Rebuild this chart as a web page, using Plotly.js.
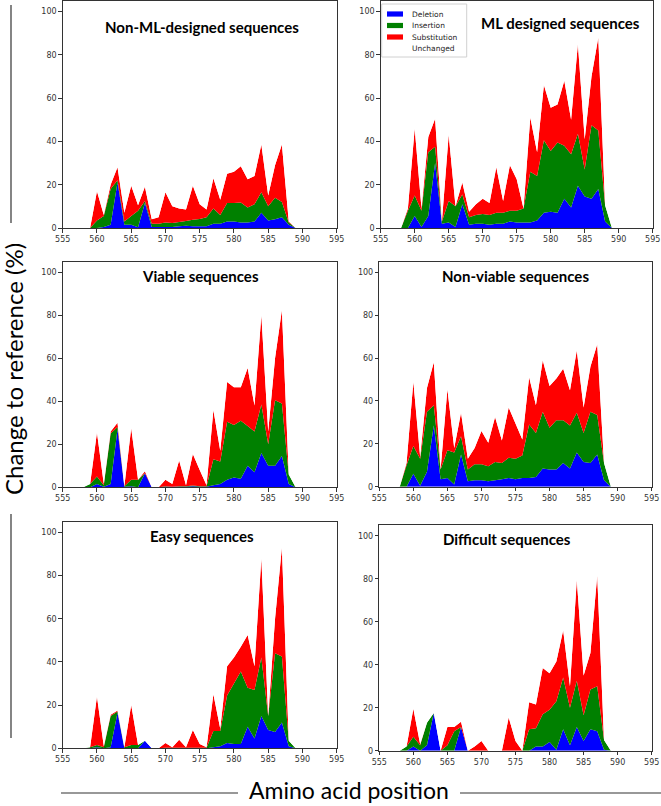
<!DOCTYPE html>
<html>
<head>
<meta charset="utf-8">
<script src="https://cdn.plot.ly/plotly-3.0.1.min.js"></script>
<style>html,body{margin:0;padding:0;background:#fff;}#chart{width:661px;height:806px;}</style>
</head>
<body>
<div id="chart"></div>
<script>
// Amino acid positions
const positions = [558,559,560,561,562,563,564,565,566,567,568,569,570,571,572,573,574,575,576,577,578,579,580,581,582,583,584,585,586,587,588,589];

const panelTitles = ["Non-ML-designed sequences","ML designed sequences","Viable sequences","Non-viable sequences","Easy sequences","Difficult sequences"];
const seriesNames = ["Deletion","Insertion","Substitution","Unchanged"];
const xTicks = [555,560,565,570,575,580,585,590,595];
const yTicks = [0,20,40,60,80,100];

// Non-ML-designed sequences
const nonMLDeletion     = [0,0,0,0.5,1.5,21,1.5,1.5,0.3,11.5,0.5,0.5,0.5,0.5,0.8,1,0.8,0.8,0.8,2,2,3,3,2.5,2.5,3,7,3.5,4,5,1.5,0];
const nonMLInsertion    = [0,0,3.5,5,16.5,1,1.5,4,7.7,1,1.5,1.5,2,1.8,2,2.2,3,3.4,4.2,7,4,8.5,8.5,9.3,7,8,9.5,6.5,10,7,1,0];
const nonMLSubstitution = [0,0,13.5,0.5,2,6,4,14,2.5,6.5,2,3,14,7.7,6.2,5.3,15.7,6.8,3.5,14,7,13.5,14.5,16.7,13,13,22,5,15,26.5,0.5,0];

// ML designed sequences
const mlDeletion     = [0,0,5.5,0.5,5.5,30,2,2.5,0.5,11,1.5,2,2,1.5,2,2,3,2.5,2.5,2.5,3.5,7,7.5,7,13.5,9.5,19.5,14.5,13.5,18,3,0];
const mlInsertion    = [0,8,9.5,7.5,29.5,7.5,1,10,9.5,4.5,3.5,4,4.5,4.5,5,5,5,5.5,6.5,23.5,20.5,33.5,28,32.5,24.5,24.5,24,12.5,34,27,7.5,0];
const mlSubstitution = [0,1,31,1,7,13,0,30.5,0,5.5,2.5,5,7,5.5,21,5.5,21,14.5,0,25,11,25.5,20,17.5,30,16,41.5,14,22.5,43,0,0];

// Viable sequences
const viableDeletion     = [0,0,1.5,0.3,1.5,27,0.3,0.5,0,6.5,0,0,0.3,0.3,0.3,0.3,0.5,0.3,0.3,1,1.5,3.5,4.5,4,10,7,16,10,10,14.5,1.5,0];
const viableInsertion    = [0,1.5,3.5,0.7,23.5,1,0.2,3,3.5,0,0,0,0.2,0,0.2,0.2,0.3,0.2,0.2,12,10.5,27,24.5,27,18.5,19,22.5,10,30.5,24.5,4.5,0];
const viableSubstitution = [0,0,20.5,0.5,1,2,0,24,0,1,0,0,3,1.2,12,0.5,14.7,7.5,0.5,23,5,18.5,17.5,15.5,27,12,41.5,6,19.5,43.5,0,0];

// Non-viable sequences
const nonViableDeletion     = [0,0,6,0.5,7,28.5,3.5,4,1,15,2.5,3,3,2.5,3,3.5,4,3.5,4,4,4.5,8.5,8,8,11,8.5,16,11.5,11,15,3,0];
const nonViableInsertion    = [0,10,13,12.5,28,9.5,4.5,13,15,8.5,5.5,7.5,7.5,7,8.5,7.5,9.5,9.5,10.5,25,20.5,26.5,19.5,23,20,20,18.5,13.5,24,18.5,8,0];
const nonViableSubstitution = [0,1,30,1,11,20,0,28.5,2,11,5,7.5,15.5,11,21,10.5,23.5,16.5,7.5,22,13,24,19.5,19.5,24,16.5,29,12,21,33,0,0];

// Easy sequences
const easyDeletion     = [0,0,0.5,0,0.5,16.5,0,0,0,3.5,0,0,0,0,0,0,0,0,0,0.5,1,2.5,2,2,10,4.5,15,8.5,7.5,12,1,0];
const easyInsertion    = [0,0.5,1,0.5,14.5,0.5,0.5,1.5,1.5,0,0,0,0.2,0.2,0.2,0.2,0.2,0.2,0.2,7.5,7,22,28,33.5,18,22.5,27,6.5,36.5,30.5,2.5,0];
const easySubstitution = [0,0,22.5,0.5,0.5,0.5,0,18.5,0,0,0,0,2.3,0.3,3.8,0.3,8.3,1.8,0.3,17,1,13.5,12,11.5,24.5,11,46,0,16,50.5,0,0];

// Difficult sequences
const difficultDeletion     = [0,0,2,0,2.5,17.5,0,0,0,11,0,0,0,0,0,0,0,0,0,0,2,2,4,0.5,10,2.5,11,4.5,10,9,0.5,0];
const difficultInsertion    = [0,2,4.5,2.5,10.5,0,0,2.5,9,0,0,0,0,0,0,0,0,0,0,10,8.5,15,15,22.5,24,17.5,21.5,12,18.5,21,4.5,0];
const difficultSubstitution = [0,0,13,0.5,0,0,0,8.5,2,2.5,0,2,4.5,0,0,0,15.5,4.5,0,12.5,11,21.5,17,18.5,22,10,47,18.5,17,51.5,0,0];

const panelData = [
  [nonMLDeletion, nonMLInsertion, nonMLSubstitution],
  [mlDeletion, mlInsertion, mlSubstitution],
  [viableDeletion, viableInsertion, viableSubstitution],
  [nonViableDeletion, nonViableInsertion, nonViableSubstitution],
  [easyDeletion, easyInsertion, easySubstitution],
  [difficultDeletion, difficultInsertion, difficultSubstitution]
];

const colors = ["#0000ff", "#008000", "#ff0000", "#ffffff"];

// layout geometry (pixels in 661x806 canvas)
const W = 661, H = 806;
const px = v => v / W;
const py = v => 1 - v / H;
const boxes = [
  {x0:62.7, x1:336.7, yb:228.0, yt:0.6},
  {x0:380.7, x1:652.7, yb:228.0, yt:0.6},
  {x0:62.7, x1:336.7, yb:487.3, yt:261.5},
  {x0:379.3, x1:651.7, yb:486.7, yt:261.6},
  {x0:62.7, x1:336.7, yb:748.3, yt:521.5},
  {x0:379.3, x1:651.7, yb:750.7, yt:525.0}
];
const titlePos = [
  {x:201.7, y:27}, {x:560, y:23}, {x:200, y:276}, {x:515, y:276}, {x:201.7, y:536}, {x:506.7, y:539}
];

const traces = [];
const layout = {
  width: W, height: H,
  margin: {l:0, r:0, t:0, b:0},
  paper_bgcolor: "#ffffff",
  plot_bgcolor: "#ffffff",
  showlegend: false,
  annotations: [],
  shapes: []
};

panelData.forEach((series, i) => {
  const n = i + 1;
  const xa = n === 1 ? "x" : "x" + n;
  const ya = n === 1 ? "y" : "y" + n;
  const unchanged = positions.map((_, k) => 100 - (series[0][k] + series[1][k] + series[2][k]));
  const all = [series[0], series[1], series[2], unchanged];
  all.forEach((vals, s) => {
    traces.push({
      type: "scatter",
      x: positions, y: vals,
      xaxis: xa, yaxis: ya,
      stackgroup: "g" + n,
      mode: "none",
      fillcolor: colors[s],
      name: seriesNames[s],
      hoverinfo: "skip"
    });
  });
  const b = boxes[i];
  const axCommon = {
    showline: true, mirror: true, linecolor: "#333", linewidth: 1,
    ticks: "outside", ticklen: 3.5, tickwidth: 1, tickcolor: "#333",
    tickfont: {family: "DejaVu Sans", size: 8, color: "#333"},
    showgrid: false, zeroline: false, fixedrange: true
  };
  layout["xaxis" + (n === 1 ? "" : n)] = Object.assign({}, axCommon, {
    domain: [px(b.x0), px(b.x1)], range: [555, 595], tickvals: xTicks, ticktext: xTicks.map(String),
    anchor: ya
  });
  layout["yaxis" + (n === 1 ? "" : n)] = Object.assign({}, axCommon, {
    domain: [py(b.yb), py(b.yt)], range: [0, 105], tickvals: yTicks, ticktext: yTicks.map(String),
    anchor: xa
  });
  layout.annotations.push({
    text: "<b>" + panelTitles[i] + "</b>",
    xref: "paper", yref: "paper", x: px(titlePos[i].x), y: py(titlePos[i].y),
    xanchor: "center", yanchor: "middle", showarrow: false,
    font: {family: "Lato", size: 15, color: "#000"}
  });
});

// legend box drawn in the ML designed panel (upper left corner)
const legendBox = {x0: 381.7, y0: 4, x1: 466.7, y1: 57};
layout.shapes.push({type: "rect", xref: "paper", yref: "paper",
  x0: px(legendBox.x0), x1: px(legendBox.x1), y0: py(legendBox.y1), y1: py(legendBox.y0),
  line: {color: "#d0d0d0", width: 1}, fillcolor: "rgba(255,255,255,0.8)", layer: "above"});
const legendRows = [14, 25.5, 37, 48.5];
seriesNames.forEach((name, s) => {
  const yc = legendRows[s];
  if (s < 3) {
    layout.shapes.push({type: "rect", xref: "paper", yref: "paper",
      x0: px(387), x1: px(403), y0: py(yc + 2.6), y1: py(yc - 2.6),
      line: {width: 0}, fillcolor: colors[s], layer: "above"});
  }
  layout.annotations.push({text: name, xref: "paper", yref: "paper",
    x: px(410), y: py(yc), xanchor: "left", yanchor: "middle", showarrow: false,
    font: {family: "DejaVu Sans", size: 7.5, color: "#222"}});
});

// big axis labels with side rules
layout.annotations.push({
  text: "Change to reference (%)", xref: "paper", yref: "paper",
  x: px(14), y: py(369), xanchor: "center", yanchor: "middle", textangle: -90,
  showarrow: false, font: {family: "Lato", size: 24, color: "#000"}
});
layout.annotations.push({
  text: "Amino acid position", xref: "paper", yref: "paper",
  x: px(349), y: py(790), xanchor: "center", yanchor: "middle",
  showarrow: false, font: {family: "Lato", size: 23, color: "#000"}
});
const lineStyle = {color: "#333", width: 1.2};
layout.shapes.push({type: "line", xref: "paper", yref: "paper", x0: px(11), x1: px(11), y0: py(5), y1: py(223), line: lineStyle});
layout.shapes.push({type: "line", xref: "paper", yref: "paper", x0: px(11), x1: px(11), y0: py(514), y1: py(738), line: lineStyle});
layout.shapes.push({type: "line", xref: "paper", yref: "paper", x0: px(61), x1: px(238), y0: py(793), y1: py(793), line: lineStyle});
layout.shapes.push({type: "line", xref: "paper", yref: "paper", x0: px(460), x1: px(661), y0: py(793), y1: py(793), line: lineStyle});

Plotly.newPlot("chart", traces, layout, {staticPlot: true, displayModeBar: false});
</script>
</body>
</html>
